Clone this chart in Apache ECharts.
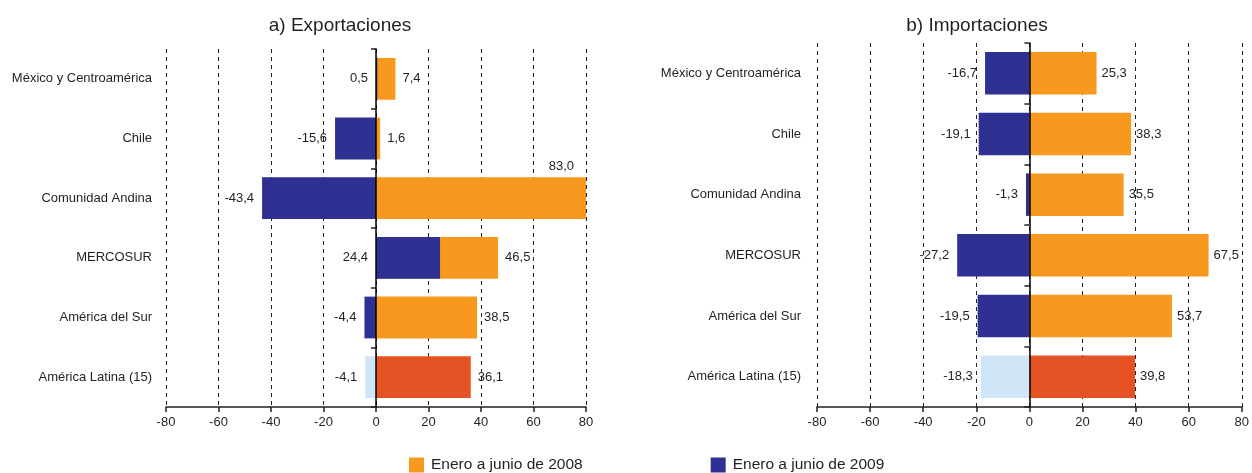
<!DOCTYPE html>
<html>
<head>
<meta charset="utf-8">
<script src="https://cdn.jsdelivr.net/npm/echarts@6/dist/echarts.min.js"></script>
<style>
	html, body { margin: 0; padding: 0; background: #fff; }
	#main { width: 1252px; height: 473px; }
</style>
</head>
<body>
<div id="main"></div>
<script>
// categorias (de arriba hacia abajo)
const categorias = ['México y Centroamérica', 'Chile', 'Comunidad Andina', 'MERCOSUR', 'América del Sur', 'América Latina (15)'];

// exportaciones
const exp2008 = [7.4, 1.6, 83.0, 46.5, 38.5, 36.1];
const exp2009 = [0.5, -15.6, -43.4, 24.4, -4.4, -4.1];

// importaciones
const imp2008 = [25.3, 38.3, 35.5, 67.5, 53.7, 39.8];
const imp2009 = [-16.7, -19.1, -1.3, -27.2, -19.5, -18.3];

const ejeTicks = [-80, -60, -40, -20, 0, 20, 40, 60, 80];

const nombre2008 = 'Enero a junio de 2008';
const nombre2009 = 'Enero a junio de 2009';

const NARANJA = '#F7991F';
const AZUL = '#2E3192';
const ROJO = '#E55325';
const CELESTE = '#D0E6F6';
const TEXTO = '#231F20';
const FUENTE = '"Liberation Sans", Arial, sans-serif';

function fmt(v) {
	return v.toFixed(1).replace('.', ',');
}

// los datos de America Latina (ultimo) llevan otro color
function datos2008(arr, clipMax) {
	return arr.map(function(v, i) {
		let item = { value: v };
		if (i === arr.length - 1) item.itemStyle = { color: ROJO };
		if (v > clipMax) {
			item.label = { position: 'insideTopRight', offset: [-5, -24] };
		}
		return item;
	});
}

function datos2009(arr) {
	return arr.map(function(v, i) {
		let item = { value: v };
		if (i === arr.length - 1) item.itemStyle = { color: CELESTE };
		return item;
	});
}

function ejeX(grid) {
	return {
		type: 'value',
		gridIndex: grid,
		min: ejeTicks[0],
		max: ejeTicks[ejeTicks.length - 1],
		interval: 20,
		axisLine: { show: true, onZero: false, lineStyle: { color: TEXTO, width: 1.5 } },
		axisTick: { show: true, length: 5, lineStyle: { color: TEXTO, width: 1.5 } },
		axisLabel: { color: TEXTO, fontSize: 13, fontFamily: FUENTE, margin: 9 },
		splitLine: { show: true, lineStyle: { color: '#222', type: [4, 4], width: 1 } }
	};
}

function ejeYEtiquetas(grid, margen) {
	return {
		type: 'category',
		gridIndex: grid,
		inverse: true,
		data: categorias,
		axisLine: { show: false, onZero: false },
		axisTick: { show: false },
		axisLabel: { color: TEXTO, fontSize: 13, fontFamily: FUENTE, margin: margen }
	};
}

function ejeYCero(grid) {
	return {
		type: 'category',
		gridIndex: grid,
		inverse: true,
		data: categorias,
		z: 5,
		axisLine: { show: true, onZero: true, lineStyle: { color: '#000', width: 1.5 } },
		axisTick: { show: true, inside: true, length: 5, lineStyle: { color: TEXTO, width: 1.5 } },
		axisLabel: { show: false }
	};
}

function serie(nombre, xi, yi, data, color, pos, dist) {
	return {
		name: nombre,
		type: 'bar',
		xAxisIndex: xi,
		yAxisIndex: yi,
		barWidth: '70%',
		barGap: '-100%',
		itemStyle: { color: color },
		label: {
			show: true,
			position: pos,
			distance: dist,
			color: TEXTO,
			fontSize: 13,
			fontFamily: FUENTE,
			formatter: function(p) { return fmt(p.value); }
		},
		data: data
	};
}

const myChart = echarts.init(document.getElementById('main'));

let option = {
	backgroundColor: '#fff',
	animation: false,
	title: [
		{ text: 'a) Exportaciones', left: 335, top: 11, textAlign: 'center',
			textStyle: { fontSize: 19, fontWeight: 'normal', color: TEXTO, fontFamily: FUENTE } },
		{ text: 'b) Importaciones', left: 972, top: 11, textAlign: 'center',
			textStyle: { fontSize: 19, fontWeight: 'normal', color: TEXTO, fontFamily: FUENTE } }
	],
	legend: {
		left: 409,
		top: 457,
		padding: 0,
		itemWidth: 15,
		itemHeight: 15,
		itemGap: 128,
		icon: 'rect',
		textStyle: { fontSize: 15.5, color: TEXTO, fontFamily: FUENTE, padding: [0, 0, 0, 2] },
		data: [nombre2008, nombre2009]
	},
	grid: [
		{ left: 166, top: 49, width: 420, height: 358 },
		{ left: 817, top: 43, width: 432, height: 364 }
	],
	xAxis: [ejeX(0), ejeX(1)],
	yAxis: [ejeYEtiquetas(0, 14), ejeYCero(0), ejeYEtiquetas(1, 16), ejeYCero(1)],
	series: [
		serie(nombre2008, 0, 0, datos2008(exp2008, 80), NARANJA, 'right', 7),
		serie(nombre2009, 0, 0, datos2009(exp2009), AZUL, 'left', 8),
		serie(nombre2008, 1, 2, datos2008(imp2008, 80), NARANJA, 'right', 5),
		serie(nombre2009, 1, 2, datos2009(imp2009), AZUL, 'left', 8)
	]
};

myChart.setOption(option);
</script>
</body>
</html>
